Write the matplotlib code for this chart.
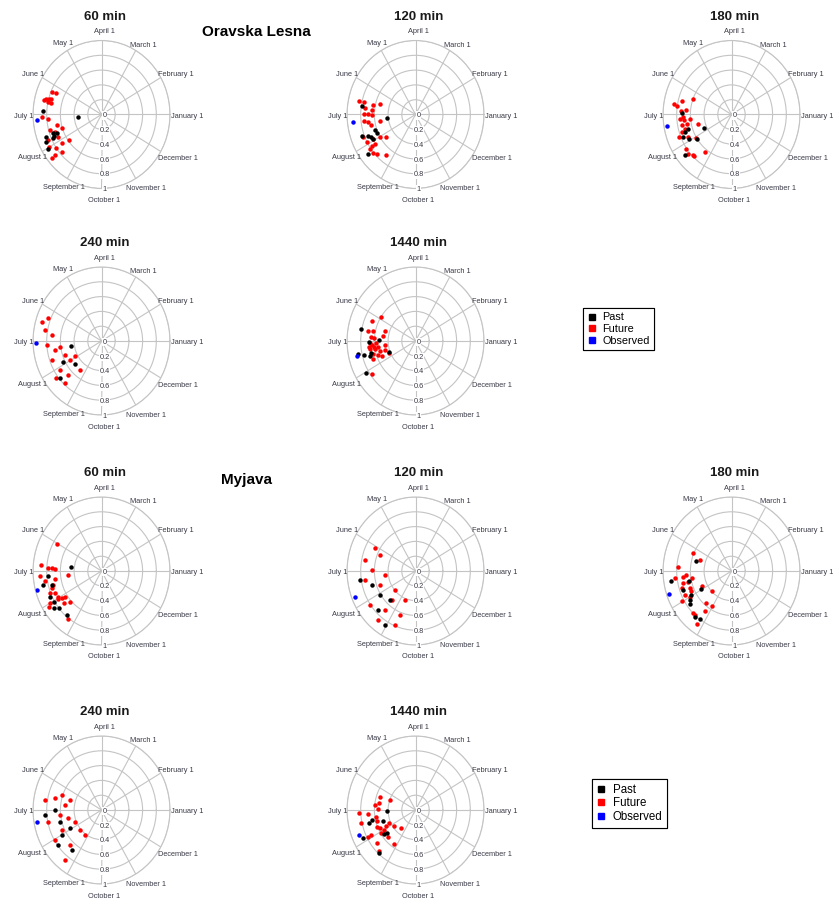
import matplotlib.pyplot as plt
import numpy as np
from matplotlib.lines import Line2D

plt.rcParams['font.family'] = ['Liberation Sans', 'DejaVu Sans']

# timing is in months after January 1 (6 = July 1), r is the seasonality strength
# Oravska Lesna
ol60_past_t = [5.88, 6.21, 6.66, 6.68, 6.76, 6.68, 6.81, 6.81, 7.04]
ol60_past_r = [0.86, 0.35, 0.75, 0.70, 0.75, 0.86, 0.89, 0.78, 0.91]
ol60_fut_t = [5.22, 5.21, 5.53, 5.50, 5.48, 5.58, 5.59, 5.56, 6.06, 6.16, 6.41, 6.61,
              6.52, 6.63, 6.85, 7.18, 7.13, 6.99, 7.15, 7.36, 7.30, 7.32, 6.80]
ol60_fut_r = [0.78, 0.72, 0.84, 0.79, 0.76, 0.80, 0.76, 0.86, 0.87, 0.78, 0.67, 0.60,
              0.78, 0.72, 0.70, 0.59, 0.70, 0.88, 0.81, 0.77, 0.87, 0.93, 0.85]
ol60_obs_t = [6.15]
ol60_obs_r = [0.94]

ol120_past_t = [5.73, 6.20, 6.66, 6.81, 6.68, 6.77, 6.84, 6.94, 7.25]
ol120_past_r = [0.79, 0.42, 0.63, 0.62, 0.84, 0.75, 0.71, 0.70, 0.87]
ol120_fut_t = [5.59, 5.58, 5.61, 5.47, 5.76, 5.83, 5.97, 5.99, 6.03, 6.22, 6.27, 6.42,
               6.32, 7.17, 7.01, 6.96, 7.13, 7.12, 7.16, 7.35, 7.45, 7.73, 6.72, 6.91]
ol120_fut_r = [0.84, 0.77, 0.63, 0.54, 0.74, 0.64, 0.75, 0.70, 0.63, 0.76, 0.70, 0.66,
               0.52, 0.53, 0.60, 0.70, 0.77, 0.71, 0.81, 0.81, 0.78, 0.70, 0.82, 0.80]
ol120_obs_t = [6.22]
ol120_obs_r = [0.92]

ol180_past_t = [5.96, 6.56, 6.63, 6.77, 6.93, 7.12, 6.81, 7.30]
ol180_past_r = [0.73, 0.66, 0.72, 0.77, 0.70, 0.61, 0.44, 0.87]
ol180_fut_t = [5.68, 5.73, 5.52, 5.33, 5.88, 5.81, 6.09, 6.14, 6.19, 6.37, 6.38, 6.21,
               6.74, 6.85, 7.05, 6.50, 7.19, 7.35, 7.47, 7.53, 7.77, 6.59, 6.52]
ol180_fut_r = [0.85, 0.81, 0.75, 0.60, 0.74, 0.67, 0.71, 0.75, 0.70, 0.74, 0.67, 0.61,
               0.82, 0.70, 0.60, 0.50, 0.81, 0.83, 0.79, 0.79, 0.64, 0.76, 0.71]
ol180_obs_t = [6.32]
ol180_obs_r = [0.96]

ol240_past_t = [6.89, 7.29, 7.32, 6.30]
ol240_past_r = [0.63, 0.50, 0.79, 0.45]
ol240_fut_t = [5.45, 5.28, 5.66, 5.79, 6.13, 6.34, 6.25, 6.65, 6.65, 6.97, 6.92, 7.10,
               7.44, 7.71, 7.56, 7.23]
ol240_fut_r = [0.91, 0.84, 0.84, 0.73, 0.80, 0.69, 0.61, 0.57, 0.77, 0.53, 0.44, 0.72,
               0.67, 0.50, 0.78, 0.83]
ol240_obs_t = [6.05]
ol240_obs_r = [0.96]

ol1440_past_t = [5.62, 6.03, 5.95, 6.39, 6.48, 6.58, 6.68, 7.02, 6.48]
ol1440_past_r = [0.81, 0.68, 0.54, 0.86, 0.77, 0.70, 0.42, 0.84, 0.67]
ol1440_fut_t = [5.23, 4.91, 5.62, 5.57, 5.43, 5.73, 5.85, 5.89, 6.06, 6.10, 6.16, 6.27,
                6.27, 6.32, 6.36, 6.47, 6.23, 6.52, 6.53, 6.63, 6.75, 6.74, 6.69, 7.17, 6.24]
ol1440_fut_r = [0.69, 0.59, 0.71, 0.63, 0.47, 0.48, 0.65, 0.60, 0.67, 0.58, 0.64, 0.61,
                0.56, 0.67, 0.60, 0.54, 0.45, 0.46, 0.65, 0.58, 0.53, 0.42, 0.67, 0.77, 0.68]
ol1440_obs_t = [6.44]
ol1440_obs_r = [0.88]

# Myjava
mj60_past_t = [5.79, 6.17, 6.41, 6.49, 6.83, 7.03, 7.29, 7.20, 7.65]
mj60_past_r = [0.45, 0.78, 0.88, 0.75, 0.83, 0.81, 0.79, 0.86, 0.78]
mj60_fut_t = [5.03, 5.83, 5.91, 5.91, 5.94, 6.14, 6.30, 6.31, 6.21, 6.50, 6.71, 6.78,
              6.96, 7.08, 7.12, 7.40, 7.27, 7.04, 6.98, 7.09, 7.78, 6.60]
mj60_fut_r = [0.75, 0.89, 0.78, 0.73, 0.68, 0.90, 0.84, 0.69, 0.49, 0.73, 0.81, 0.74,
              0.72, 0.69, 0.64, 0.62, 0.70, 0.74, 0.87, 0.91, 0.81, 0.76]
mj60_obs_t = [6.51]
mj60_obs_r = [0.98]

mj120_past_t = [6.29, 6.55, 7.07, 7.55, 7.46, 7.95]
mj120_past_r = [0.82, 0.66, 0.61, 0.54, 0.76, 0.86]
mj120_fut_t = [5.07, 5.25, 5.62, 5.96, 6.23, 6.31, 6.67, 7.36, 7.63, 7.16, 7.66, 7.68,
               8.31, 8.29, 8.26]
mj120_fut_r = [0.67, 0.56, 0.75, 0.64, 0.45, 0.75, 0.55, 0.39, 0.52, 0.81, 0.69, 0.86,
               0.64, 0.42, 0.79]
mj120_obs_t = [6.72]
mj120_obs_r = [0.95]

mj180_past_t = [5.49, 6.28, 6.39, 6.96, 6.97, 7.10, 7.21, 6.66, 7.64, 7.83]
mj180_past_r = [0.53, 0.90, 0.64, 0.51, 0.67, 0.72, 0.75, 0.76, 0.82, 0.80]
mj180_fut_t = [5.21, 5.40, 5.86, 6.23, 6.23, 6.16, 6.44, 6.59, 6.67, 6.80, 6.85, 6.96,
               6.99, 6.83, 7.48, 7.63, 7.99, 7.81, 7.51, 7.60, 7.84, 6.43, 6.32]
mj180_fut_r = [0.62, 0.48, 0.78, 0.83, 0.72, 0.66, 0.72, 0.76, 0.65, 0.65, 0.75, 0.83,
               0.70, 0.48, 0.39, 0.57, 0.55, 0.66, 0.79, 0.80, 0.87, 0.65, 0.59]
mj180_obs_t = [6.64]
mj180_obs_r = [0.96]

mj240_past_t = [6.00, 6.50, 6.93, 7.01, 7.22, 7.72, 6.16]
mj240_past_r = [0.68, 0.63, 0.52, 0.67, 0.79, 0.69, 0.83]
mj240_fut_t = [5.69, 5.55, 5.35, 5.76, 5.45, 6.21, 6.42, 6.76, 7.36, 7.82, 6.84, 7.03,
               7.53, 7.72, 6.39]
mj240_fut_r = [0.84, 0.70, 0.61, 0.54, 0.48, 0.61, 0.50, 0.42, 0.41, 0.42, 0.64, 0.79,
               0.66, 0.86, 0.80]
mj240_obs_t = [6.33]
mj240_obs_r = [0.96]

mj1440_past_t = [6.04, 6.38, 6.47, 6.57, 7.21, 7.19, 6.88, 7.60]
mj1440_past_r = [0.42, 0.65, 0.70, 0.49, 0.52, 0.56, 0.86, 0.79]
mj1440_fut_t = [5.40, 5.33, 5.78, 5.97, 6.08, 6.15, 6.41, 6.29, 6.48, 6.73, 6.84, 7.03,
                6.92, 7.05, 7.39, 7.17, 7.66, 6.92, 6.93, 7.27, 7.87, 7.53, 6.83, 5.64]
mj1440_fut_r = [0.55, 0.39, 0.60, 0.55, 0.83, 0.70, 0.81, 0.59, 0.58, 0.61, 0.58, 0.53,
                0.48, 0.59, 0.54, 0.38, 0.32, 0.73, 0.79, 0.72, 0.55, 0.77, 0.43, 0.54]
mj1440_obs_t = [6.75]
mj1440_obs_r = [0.89]

months = ['January 1', 'February 1', 'March 1', 'April 1', 'May 1', 'June 1',
          'July 1', 'August 1', 'September 1', 'October 1', 'November 1', 'December 1']
rings = [0, 0.2, 0.4, 0.6, 0.8, 1]
ring_labels = ['0', '0.2', '0.4', '0.6', '0.8', '1']
series_labels = ['Past', 'Future', 'Observed']

W, H = 839, 905
RX, RY = 68.5, 74
GRID = '#c4c4c4'
TXT = '#3a3a48'

# label placement per month: ha, dx, dy (pixels, dy downwards)
label_pos = [('left', 1, 1.5), ('left', -2.5, -3), ('center', 8, -5), ('center', 2.5, -9),
             ('center', -4, -7), ('right', 2, -3), ('right', 0, 1.5), ('right', 5, 6),
             ('center', -3.5, 9), ('center', 2.5, 12), ('center', 10, 10), ('left', -3, 7)]

fig = plt.figure(figsize=(W / 100, H / 100), dpi=100)


def panel(title, cx, cy, past_t, past_r, fut_t, fut_r, obs_t, obs_r):
    ax = fig.add_axes([(cx - RX) / W, 1 - (cy + RY) / H, 2 * RX / W, 2 * RY / H],
                      projection='polar')
    ax.set_aspect('auto')
    ax.set_ylim(0, 1)
    ax.set_xticks(np.arange(12) * np.pi / 6)
    ax.set_xticklabels([])
    ax.set_yticks(rings[1:])
    ax.set_yticklabels([])
    ax.grid(True, color=GRID, lw=0.8)
    ax.spines['polar'].set_color(GRID)
    ax.spines['polar'].set_linewidth(0.8)
    ax.tick_params(length=0)

    ax.plot(np.array(fut_t) * np.pi / 6, fut_r, 'o', color='red', ms=3.2, mew=0, zorder=3)
    ax.plot(np.array(past_t) * np.pi / 6, past_r, 'o', color='black', ms=3.2, mew=0, zorder=4)
    ax.plot(np.array(obs_t) * np.pi / 6, obs_r, 'o', color='blue', ms=3.2, mew=0, zorder=5)

    for i, name in enumerate(months):
        ha, dx, dy = label_pos[i]
        ax.annotate(name, xy=(i * np.pi / 6, 1.0), xytext=(dx * 0.72, -dy * 0.72),
                    textcoords='offset points', ha=ha, va='center', fontsize=5.3,
                    color=TXT, annotation_clip=False)
    for r, lab in zip(rings, ring_labels):
        ax.annotate(lab, xy=(1.5 * np.pi, r), xytext=(3 * 0.72, -1.2 * 0.72),
                    textcoords='offset points', ha='center', va='center', fontsize=5.3,
                    color=TXT, annotation_clip=False, zorder=6,
                    bbox=dict(boxstyle='square,pad=0.1', fc='white', ec='none'))
    fig.text((cx + 3) / W, 1 - (cy - 98) / H, title, ha='center', va='center',
             fontsize=9.5, fontweight='bold', color='#1a1a1a')


cols = [101.5, 415.5, 731.5]
rows = [114.5, 341, 571, 810]

panel('60 min', cols[0], rows[0], ol60_past_t, ol60_past_r, ol60_fut_t, ol60_fut_r, ol60_obs_t, ol60_obs_r)
panel('120 min', cols[1], rows[0], ol120_past_t, ol120_past_r, ol120_fut_t, ol120_fut_r, ol120_obs_t, ol120_obs_r)
panel('180 min', cols[2], rows[0], ol180_past_t, ol180_past_r, ol180_fut_t, ol180_fut_r, ol180_obs_t, ol180_obs_r)
panel('240 min', cols[0], rows[1], ol240_past_t, ol240_past_r, ol240_fut_t, ol240_fut_r, ol240_obs_t, ol240_obs_r)
panel('1440 min', cols[1], rows[1], ol1440_past_t, ol1440_past_r, ol1440_fut_t, ol1440_fut_r, ol1440_obs_t, ol1440_obs_r)
panel('60 min', cols[0], rows[2], mj60_past_t, mj60_past_r, mj60_fut_t, mj60_fut_r, mj60_obs_t, mj60_obs_r)
panel('120 min', cols[1], rows[2], mj120_past_t, mj120_past_r, mj120_fut_t, mj120_fut_r, mj120_obs_t, mj120_obs_r)
panel('180 min', cols[2], rows[2], mj180_past_t, mj180_past_r, mj180_fut_t, mj180_fut_r, mj180_obs_t, mj180_obs_r)
panel('240 min', cols[0], rows[3], mj240_past_t, mj240_past_r, mj240_fut_t, mj240_fut_r, mj240_obs_t, mj240_obs_r)
panel('1440 min', cols[1], rows[3], mj1440_past_t, mj1440_past_r, mj1440_fut_t, mj1440_fut_r, mj1440_obs_t, mj1440_obs_r)

fig.text(256.5 / W, 1 - 32 / H, 'Oravska Lesna', ha='center', va='center', fontsize=11, fontweight='bold')
fig.text(246 / W, 1 - 480 / H, 'Myjava', ha='center', va='center', fontsize=11, fontweight='bold')

handles = [Line2D([], [], marker='s', ls='', color=c, ms=4) for c in ['black', 'red', 'blue']]
for x0, y0, fs in [(583, 308, 7.8), (592, 779, 8.3)]:
    leg = fig.legend(handles, series_labels, loc='upper left', bbox_to_anchor=(x0 / W, 1 - y0 / H),
                     frameon=True, fancybox=False, edgecolor='black', framealpha=1, fontsize=fs,
                     handlelength=0.8, handletextpad=0.6, borderpad=0.4, labelspacing=0.15,
                     borderaxespad=0)
    leg.get_frame().set_linewidth(0.8)
    fig.add_artist(leg)

fig.savefig('out.png', dpi=100)
